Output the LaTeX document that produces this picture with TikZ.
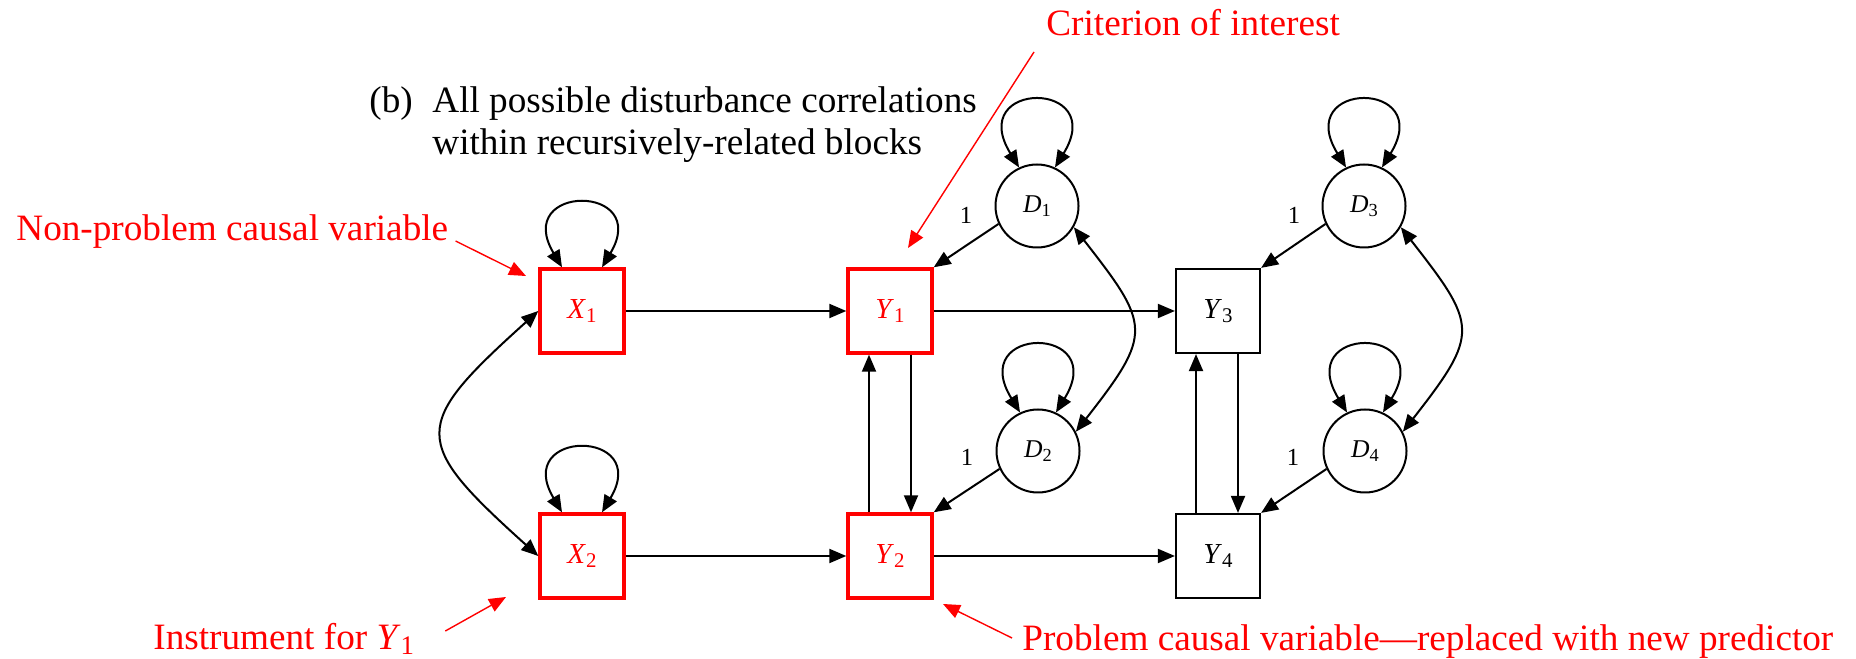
\documentclass[tikz,border=0pt]{standalone}
\usepackage{fontspec}
\setmainfont{Liberation Serif}
\usepackage{graphicx}
\usetikzlibrary{arrows.meta}
% italic variable with a lowered upright index
\newcommand\sub[2]{\textit{#1}\raisebox{-0.15em}{\scalebox{0.72}{#2}}}

\begin{document}
\begin{tikzpicture}[x=0.5pt,y=0.5pt,
  arr/.style={-{Triangle[length=8.5pt,width=7pt]}},
  dbl/.style={{Triangle[length=8.5pt,width=7pt]}-{Triangle[length=8.5pt,width=7pt]}},
  conn/.style={line width=1pt},
  var/.style={draw, line width=1.1pt, minimum size=42pt, inner sep=0pt,
    font=\fontsize{14.5}{17}\selectfont},
  hot/.style={var, draw=red, line width=1.7pt, text=red},
  dist/.style={circle, draw, line width=1pt, minimum size=41.5pt, inner sep=0pt,
    font=\fontsize{12.8}{15}\selectfont},
  one/.style={font=\fontsize{12.3}{14}\selectfont, inner sep=0pt},
  heading/.style={font=\fontsize{18.6}{21}\selectfont, inner sep=0pt, anchor=base west},
  note/.style={heading, text=red},
  pointer/.style={red, line width=0.7pt, -{Triangle[length=8.5pt,width=7pt]}}
]
\useasboundingbox (0,0) rectangle (1856,658);

% observed variables
\node[hot] (X1) at (582,347) {\sub{X}{1}};
\node[hot] (Y1) at (890,347) {\sub{Y}{1}};
\node[var] (Y3) at (1218,347) {\sub{Y}{3}};
\node[hot] (X2) at (582,102) {\sub{X}{2}};
\node[hot] (Y2) at (890,102) {\sub{Y}{2}};
\node[var] (Y4) at (1218,102) {\sub{Y}{4}};

% disturbances
\node[dist] (D1) at (1037,452) {\sub{D}{1}};
\node[dist] (D2) at (1038,207) {\sub{D}{2}};
\node[dist] (D3) at (1364,452) {\sub{D}{3}};
\node[dist] (D4) at (1365,207) {\sub{D}{4}};

% fixed loadings
\node[one] (w1) at (966,443) {1};
\node[one] (w2) at (967,201) {1};
\node[one] (w3) at (1294,443) {1};
\node[one] (w4) at (1293,201) {1};

% direct effects
\draw[conn,arr] (X1) -- (Y1);
\draw[conn,arr] (Y1) -- (Y3);
\draw[conn,arr] (X2) -- (Y2);
\draw[conn,arr] (Y2) -- (Y4);
\draw[conn,arr] ([xshift=-10.5pt]Y2.north) -- ([xshift=-10.5pt]Y1.south);
\draw[conn,arr] ([xshift=10.5pt]Y1.south) -- ([xshift=10.5pt]Y2.north);
\draw[conn,arr] ([xshift=-11pt]Y4.north) -- ([xshift=-11pt]Y3.south);
\draw[conn,arr] ([xshift=10pt]Y3.south) -- ([xshift=10pt]Y4.north);

% disturbance paths
\draw[conn,arr] (D1.205) -- (Y1.north east);
\draw[conn,arr] (D2.205) -- (Y2.north east);
\draw[conn,arr] (D3.205) -- (Y3.north east);
\draw[conn,arr] (D4.205) -- (Y4.north east);

% variances
\foreach \n in {X1,X2}
  \draw[conn,dbl] ([xshift=-10pt]\n.north) .. controls +(-50,84) and +(50,84) .. ([xshift=10pt]\n.north);
\foreach \n in {D1,D2,D3,D4}
  \draw[conn,dbl] (\n.115) .. controls +(-54,88) and +(54,88) .. (\n.65);

% covariances
\draw[conn,dbl] (X1.west) .. controls +(222:172) and +(138:172) .. (X2.west);
\draw[conn,dbl] (D1.-30) .. controls +(-52:125) and +(52:125) .. (D2.27);
\draw[conn,dbl] (D3.-30) .. controls +(-52:125) and +(52:125) .. (D4.27);

% caption
\node[heading] (tag) at (369,545) {(b)};
\node[heading] (h1) at (432,545) {All possible disturbance correlations};
\node[heading] (h2) at (432,503) {within recursively-related blocks};

% annotations
\node[note] (np) at (16,417) {Non-problem causal variable};
\node[note] (ci) at (1046,622) {Criterion of interest};
\node[note] (inst) at (153,9) {Instrument for \sub{Y}{1}};
\node[note] (pc) at (1022,8) {Problem causal variable—replaced with new predictor};

\coordinate (npTip) at (526,382);
\coordinate (ciTip) at (908,410);
\coordinate (instTip) at (506,61);
\coordinate (pcTip) at (943,54);
\draw[pointer] ([xshift=3.5pt]np.base east) -- (npTip);
\draw[pointer] ([shift={(-6pt,-8pt)}]ci.base west) -- (ciTip);
\draw[pointer] ([shift={(15.5pt,9pt)}]inst.base east) -- (instTip);
\draw[pointer] ([shift={(-5pt,6pt)}]pc.base west) -- (pcTip);
\end{tikzpicture}
\end{document}
